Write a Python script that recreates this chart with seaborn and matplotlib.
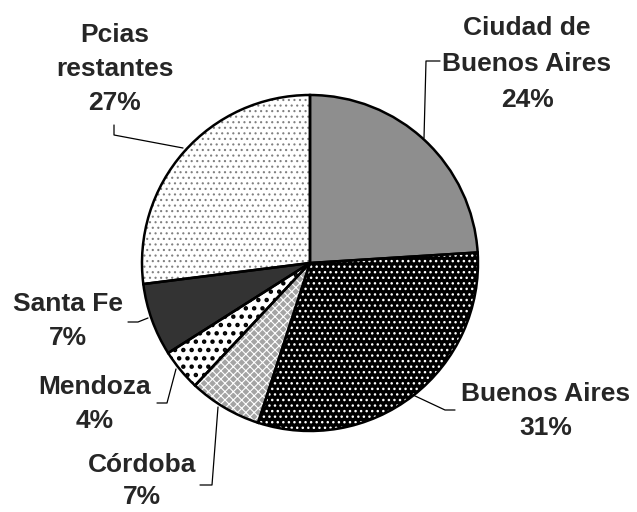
import matplotlib
matplotlib.use("Agg")
import matplotlib.pyplot as plt
import seaborn as sns

sns.set_theme(style="white")
plt.rcParams['font.family'] = ['Liberation Sans', 'DejaVu Sans']
plt.rcParams['hatch.linewidth'] = 1.0

regions = ['Ciudad de\nBuenos Aires', 'Buenos Aires', 'Córdoba', 'Mendoza', 'Santa Fe', 'Pcias\nrestantes']
shares = [24, 31, 7, 4, 7, 27]
fills = ['#8e8e8e', 'black', '#a4a4a4', 'white', '#333333', 'white']
hatches = [None, '...', 'xxxx', '..', None, '...']
hatch_colors = ['#8e8e8e', 'white', 'white', 'black', '#333333', '#808080']
hatch_widths = [1.0, 1.0, 0.8, 2.0, 1.0, 0.8]

# label placement in pixels (centre of text block), line spacing, leader paths
label_px = [(527, 64), (546, 411), (142, 481), (95, 404), (68, 321), (115, 69)]
spacing = [1.65, 1.5, 1.45, 1.5, 1.5, 1.5]
leader_px = [
    [(424, 138), (426, 61), (440, 61)],
    [(413, 395), (445, 410), (455, 410)],
    [(218, 407), (212, 485), (200, 485)],
    [(176, 369), (167, 403), (157, 403)],
    [(148, 318), (138, 322), (128, 322)],
    [(183, 148), (114, 135), (114, 125)],
]

W, H = 637, 512
cx, cy, r = 310, 263, 168


def to_data(p):
    return (p[0] - cx) / r, (cy - p[1]) / r


fig = plt.figure(figsize=(W / 100, H / 100), dpi=100)
ax = fig.add_axes([0, 0, 1, 1])

wedges, _ = ax.pie(shares, startangle=90, counterclock=False, radius=1,
                   colors=fills, wedgeprops=dict(linewidth=0))
for w, h, hc, hw in zip(wedges, hatches, hatch_colors, hatch_widths):
    w.set_edgecolor(hc)
    if h:
        w.set_hatch(h)
        if hasattr(w, 'set_hatch_linewidth'):
            w.set_hatch_linewidth(hw)

# outlines on top
ax.pie(shares, startangle=90, counterclock=False, radius=1,
       colors=['none'] * len(shares),
       wedgeprops=dict(linewidth=1.8, edgecolor='black', fill=False))

for name, pct, pos, ls, path in zip(regions, shares, label_px, spacing, leader_px):
    x, y = to_data(pos)
    ax.text(x, y, f"{name}\n{pct}%", ha='center', va='center',
            fontsize=19, fontweight='bold', linespacing=ls)
    pts = [to_data(p) for p in path]
    ax.plot([p[0] for p in pts], [p[1] for p in pts], color='black', lw=0.9)

ax.set_xlim(-cx / r, (W - cx) / r)
ax.set_ylim(-(H - cy) / r, cy / r)
ax.set_aspect('equal')
ax.axis('off')

fig.savefig('out.png', dpi=100)
